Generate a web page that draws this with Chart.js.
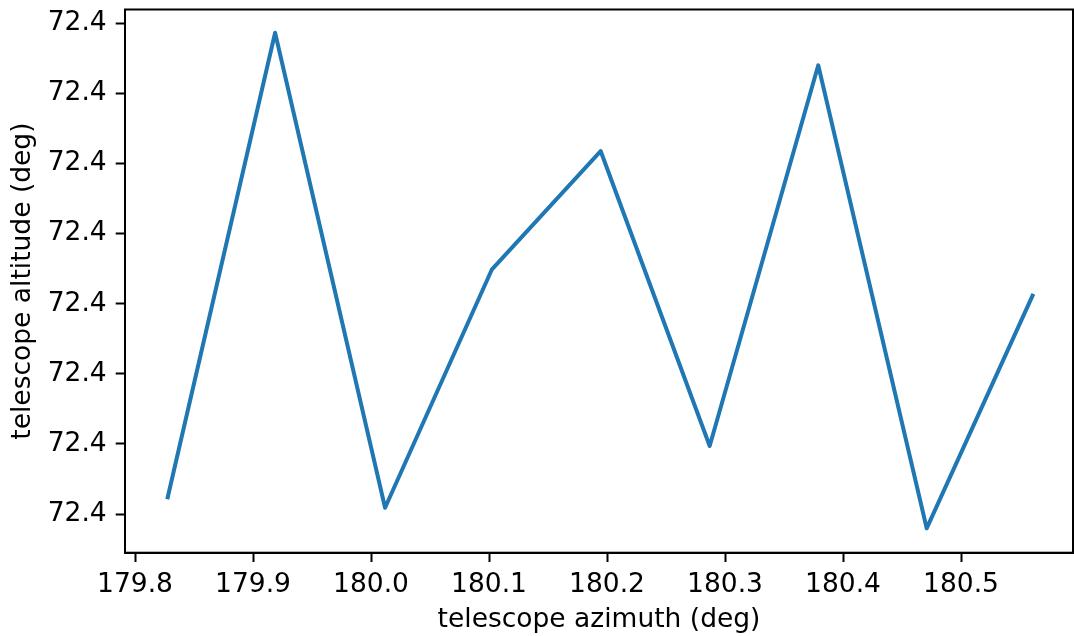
<!DOCTYPE html>
<html>
<head>
<meta charset="utf-8">
<script src="https://cdn.jsdelivr.net/npm/chart.js@4"></script>
<style>
  html, body { margin: 0; padding: 0; background: #fff; }
  #wrap { width: 1074px; height: 636px; }
</style>
</head>
<body>
<div id="wrap"><canvas id="altAzChart" width="1074" height="636"></canvas></div>
<script>
// telescope pointing samples
const azimuth = [179.8277, 179.9187, 180.0119, 180.1025, 180.1946, 180.2870, 180.3790, 180.4709, 180.5606];
const altitude = [72.3997238, 72.4003866, 72.3997090, 72.4000491, 72.4002178, 72.3997970, 72.4003401, 72.3996796, 72.4000114];

// tick positions
const xTicks = [179.8, 179.9, 180.0, 180.1, 180.2, 180.3, 180.4, 180.5];
const yTicks = [72.3997, 72.3998, 72.3999, 72.4000, 72.4001, 72.4002, 72.4003, 72.4004];

const FONT = { family: "'DejaVu Sans', sans-serif", size: 26.5 };

// top and right spines (matplotlib draws a full box)
const frameBox = {
  id: 'frameBox',
  afterDraw(chart) {
    const { ctx, chartArea: a } = chart;
    ctx.save();
    ctx.strokeStyle = '#000';
    ctx.lineWidth = 2;
    ctx.strokeRect(a.left, a.top, a.right - a.left, a.bottom - a.top);
    ctx.restore();
  },
};

// keep the plot box where it is, no extra room for overhanging labels
function noOverhang(s) {
  s.paddingTop = 0;
  s.paddingBottom = 0;
  s.paddingLeft = 0;
  s.paddingRight = 0;
}

new Chart(document.getElementById('altAzChart'), {
  type: 'line',
  data: {
    datasets: [{
      data: azimuth.map((x, i) => ({ x, y: altitude[i] })),
      borderColor: '#1f77b4',
      borderWidth: 4,
      borderJoinStyle: 'round',
      borderCapStyle: 'square',
      pointRadius: 0,
      tension: 0,
      fill: false,
    }],
  },
  options: {
    responsive: false,
    animation: false,
    layout: { padding: { top: 9.5, right: 1, left: 0, bottom: 0 } },
    plugins: { legend: { display: false }, tooltip: { enabled: false } },
    scales: {
      x: {
        type: 'linear',
        min: 179.7915,
        max: 180.5949,
        afterBuildTicks: (s) => { s.ticks = xTicks.map((v) => ({ value: v })); },
        afterFit: (s) => { s.height = 83.3; noOverhang(s); },
        grid: { drawOnChartArea: false, drawTicks: true, tickLength: 9.3, tickWidth: 2, tickColor: '#000' },
        border: { display: true, color: '#000', width: 2 },
        ticks: { color: '#000', font: FONT, padding: 7, maxRotation: 0, autoSkip: false,
          callback: (v) => v.toFixed(1) },
        title: { display: true, text: 'telescope azimuth (deg)', color: '#000', font: FONT,
          padding: { top: 0, bottom: 0 } },
      },
      y: {
        type: 'linear',
        min: 72.3996448,
        max: 72.4004197,
        afterBuildTicks: (s) => { s.ticks = yTicks.map((v) => ({ value: v })); },
        afterFit: (s) => { s.width = 125; noOverhang(s); },
        grid: { drawOnChartArea: false, drawTicks: true, tickLength: 9.3, tickWidth: 2, tickColor: '#000' },
        border: { display: true, color: '#000', width: 2 },
        ticks: { color: '#000', font: FONT, padding: 9, autoSkip: false,
          callback: (v) => v.toFixed(1) },
        title: { display: true, text: 'telescope altitude (deg)', color: '#000', font: FONT,
          padding: { top: 7.5, bottom: 0 } },
      },
    },
  },
  plugins: [frameBox],
});
</script>
</body>
</html>
